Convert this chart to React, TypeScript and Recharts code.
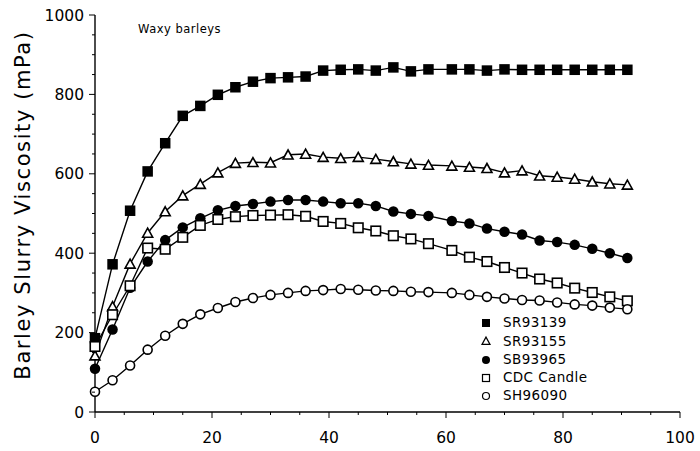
import React from 'react';
import { LineChart, Line, XAxis, YAxis, Legend } from 'recharts';

const times = [0, 3, 6, 9, 12, 15, 18, 21, 24, 27, 30, 33, 36, 39, 42, 45, 48, 51, 54, 57, 61, 64, 67, 70, 73, 76, 79, 82, 85, 88, 91];

const sr93139 = [186, 372, 507, 606, 677, 746, 771, 799, 818, 832, 841, 843, 845, 860, 862, 863, 860, 868, 858, 863, 863, 863, 860, 863, 862, 862, 862, 862, 862, 862, 862];
const sr93155 = [142, 266, 373, 451, 505, 545, 574, 603, 627, 629, 628, 648, 650, 642, 639, 642, 637, 631, 625, 622, 620, 617, 614, 603, 608, 595, 592, 587, 580, 575, 572];
const sb93965 = [109, 208, 313, 379, 433, 465, 488, 508, 519, 524, 530, 534, 534, 530, 526, 526, 519, 505, 499, 494, 481, 475, 462, 454, 447, 432, 428, 421, 411, 400, 388];
const cdcCandle = [165, 245, 318, 413, 410, 440, 470, 485, 492, 495, 496, 497, 493, 480, 475, 464, 456, 444, 436, 424, 407, 390, 379, 364, 350, 335, 325, 312, 301, 290, 280];
const sh96090 = [51, 80, 117, 157, 192, 222, 246, 262, 277, 287, 295, 300, 305, 307, 310, 308, 306, 305, 303, 302, 300, 295, 290, 286, 282, 281, 276, 271, 268, 263, 259];

const seriesNames = ['SR93139', 'SR93155', 'SB93965', 'CDC Candle', 'SH96090'];

const xTicks = [0, 5, 10, 15, 20, 25, 30, 35, 40, 45, 50, 55, 60, 65, 70, 75, 80, 85, 90, 95, 100];
const xMajor = [0, 20, 40, 60, 80, 100];
const yTicks = [0, 50, 100, 150, 200, 250, 300, 350, 400, 450, 500, 550, 600, 650, 700, 750, 800, 850, 900, 950, 1000];
const yMajor = [0, 200, 400, 600, 800, 1000];

const yTitle = 'Barley Slurry Viscosity  (mPa)';
const note = 'Waxy barleys';

const data = times.map((t, i) => ({
  t,
  SR93139: sr93139[i],
  SR93155: sr93155[i],
  SB93965: sb93965[i],
  'CDC Candle': cdcCandle[i],
  SH96090: sh96090[i],
}));

const FONT = '"DejaVu Sans", "Liberation Sans", sans-serif';

function marker(kind: number, cx: number, cy: number, s: number, key?: any) {
  const sw = s > 8 ? 1.6 : 1.2;
  if (kind === 0) {
    return <rect key={key} x={cx - s / 2} y={cy - s / 2} width={s} height={s} fill="#000" />;
  }
  if (kind === 1) {
    const h = s * 0.85;
    return (
      <path
        key={key}
        d={`M${cx},${cy - h / 2 - 0.5} L${cx + s / 2},${cy + h / 2} L${cx - s / 2},${cy + h / 2} Z`}
        fill="#fff"
        stroke="#000"
        strokeWidth={sw}
      />
    );
  }
  if (kind === 2) {
    return <circle key={key} cx={cx} cy={cy} r={s / 2} fill="#000" />;
  }
  if (kind === 3) {
    return <rect key={key} x={cx - s / 2 + 0.5} y={cy - s / 2 + 0.5} width={s - 1} height={s - 1} fill="#fff" stroke="#000" strokeWidth={sw} />;
  }
  return <circle key={key} cx={cx} cy={cy} r={s / 2 - 0.5} fill="#fff" stroke="#000" strokeWidth={sw} />;
}

const makeDot = (kind: number, size: number) => (p: any) => {
  if (p == null || p.cx == null || p.cy == null) return <g key={p ? p.index : 'x'} />;
  return marker(kind, p.cx, p.cy, size, `${kind}-${p.index}`);
};

const XTick = (props: any) => {
  const { x, y, payload } = props;
  const major = xMajor.includes(payload.value);
  return (
    <g>
      <line x1={x} y1={y} x2={x} y2={y + (major ? 6 : 3)} stroke="#000" strokeWidth={1} />
      {major && (
        <text x={x} y={y + 31} textAnchor="middle" fontFamily={FONT} fontSize={15.5} fill="#000">
          {payload.value}
        </text>
      )}
    </g>
  );
};

const YTick = (props: any) => {
  const { x, y, payload } = props;
  const major = yMajor.includes(payload.value);
  return (
    <g>
      <line x1={x} y1={y} x2={x - (major ? 6 : 3)} y2={y} stroke="#000" strokeWidth={1} />
      {major && (
        <text x={x - 11} y={y + 5.6} textAnchor="end" fontFamily={FONT} fontSize={15.5} fill="#000">
          {payload.value}
        </text>
      )}
    </g>
  );
};

const renderLegend = () => (
  <div style={{ fontFamily: FONT, fontSize: 13.5, color: '#000', lineHeight: 1 }}>
    {seriesNames.map((n, i) => (
      <div key={n} style={{ height: 18.25, display: 'flex', alignItems: 'center' }}>
        <svg width={14} height={14} style={{ display: 'block' }}>
          {marker(i, 7, 7, 8)}
        </svg>
        <span style={{ marginLeft: 10, letterSpacing: 0.4 }}>{n}</span>
      </div>
    ))}
  </div>
);

export default function App() {
  return (
    <div style={{ position: 'absolute', left: 0, top: 0, width: 700, height: 451, background: '#fff' }}>
      <LineChart width={700} height={451} data={data} margin={{ top: 15, right: 20, left: 0, bottom: 0 }}>
        <XAxis
          dataKey="t"
          type="number"
          domain={[0, 100]}
          ticks={xTicks}
          interval={0}
          tick={<XTick />}
          tickLine={false}
          tickSize={0}
          tickMargin={0}
          height={39}
          axisLine={{ stroke: '#000', strokeWidth: 1.4 }}
        />
        <YAxis
          type="number"
          domain={[0, 1000]}
          ticks={yTicks}
          interval={0}
          tick={<YTick />}
          tickLine={false}
          tickSize={0}
          tickMargin={0}
          width={95}
          axisLine={{ stroke: '#000', strokeWidth: 1.4 }}
        />
        <Legend
          layout="vertical"
          align="center"
          verticalAlign="middle"
          content={renderLegend}
          wrapperStyle={{ left: 479, top: 314, width: 130, height: 92 }}
        />
        <Line dataKey="SR93139" stroke="#000" strokeWidth={1.4} dot={makeDot(0, 10.5)} activeDot={false} isAnimationActive={false} />
        <Line dataKey="SR93155" stroke="#000" strokeWidth={1.4} dot={makeDot(1, 10)} activeDot={false} isAnimationActive={false} />
        <Line dataKey="SB93965" stroke="#000" strokeWidth={1.4} dot={makeDot(2, 10.5)} activeDot={false} isAnimationActive={false} />
        <Line dataKey="CDC Candle" stroke="#000" strokeWidth={1.4} dot={makeDot(3, 10.5)} activeDot={false} isAnimationActive={false} />
        <Line dataKey="SH96090" stroke="#000" strokeWidth={1.4} dot={makeDot(4, 10)} activeDot={false} isAnimationActive={false} />
        <text x={138} y={33} fontFamily={FONT} fontSize={11.5} fill="#000" letterSpacing={0.5}>
          {note}
        </text>
        <text
          x={30}
          y={205}
          transform="rotate(-90, 30, 205)"
          textAnchor="middle"
          fontFamily={FONT}
          fontSize={21}
          letterSpacing={1.6}
          fill="#000"
        >
          {yTitle}
        </text>
      </LineChart>
    </div>
  );
}
